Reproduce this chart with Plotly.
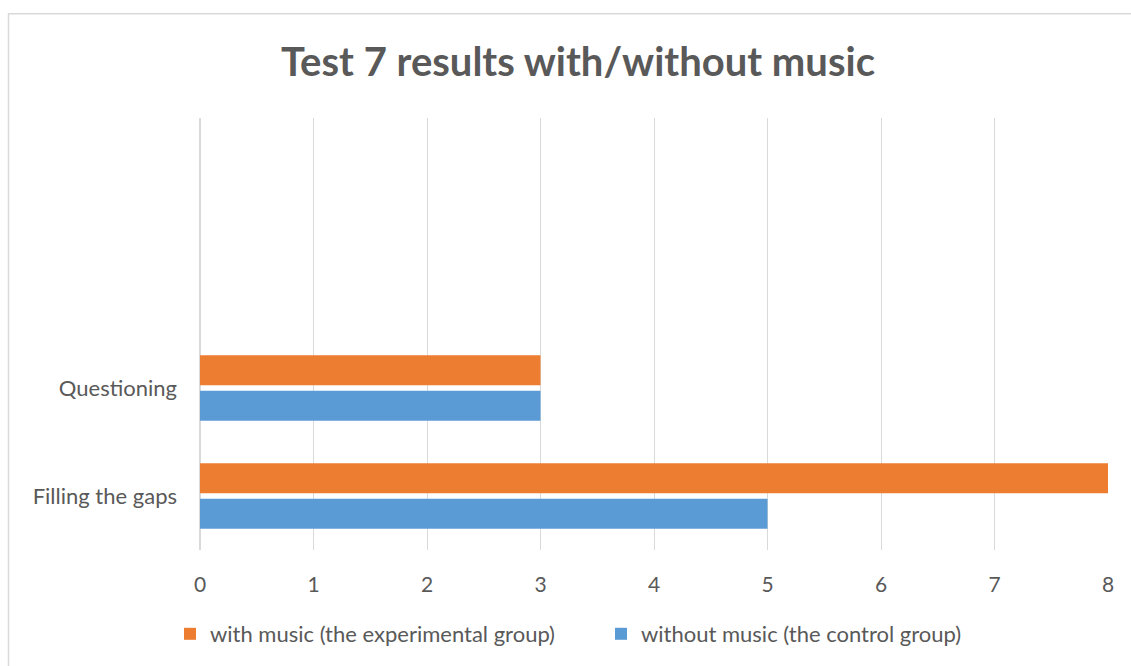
import plotly.graph_objects as go

categories = ["Filling the gaps", "Questioning"]
with_music = [8, 3]
without_music = [5, 3]
series_names = ["with music (the experimental group)", "without music (the control group)"]
x_ticks = [0, 1, 2, 3, 4, 5, 6, 7, 8]

ORANGE = "#ED7D31"
BLUE = "#5B9BD5"
TXT = "#595959"
FONT = "Lato, Open Sans, sans-serif"

fig = go.Figure()
fig.add_trace(go.Bar(y=categories, x=without_music, orientation="h", name=series_names[1],
                     marker=dict(color=BLUE, line=dict(width=0)), legendrank=2))
fig.add_trace(go.Bar(y=categories, x=with_music, orientation="h", name=series_names[0],
                     marker=dict(color=ORANGE, line=dict(width=0)), legendrank=1))

L, R, T, B = 200, 23, 118, 115
W, H = 1131, 666
pw, ph = W - L - R, H - T - B

fig.update_layout(
    width=W, height=H,
    margin=dict(l=L, r=R, t=T, b=B),
    paper_bgcolor="white", plot_bgcolor="white",
    barmode="group", bargap=0.34, bargroupgap=0.16,
    title=dict(text="<b>Test 7 results with/without music</b>", x=0.511, xanchor="center",
               y=1 - 62 / H, yanchor="middle",
               font=dict(family=FONT, size=40, color=TXT)),
    font=dict(family=FONT, size=22, color=TXT),
    showlegend=True,
    legend=dict(orientation="h", x=(212 - 42 - L) / pw, xanchor="left",
                y=-(634 - (T + ph)) / ph,
                yanchor="middle", font=dict(size=22, color=TXT), itemwidth=30,
                entrywidth=386, entrywidthmode="pixels",
                traceorder="normal"),
    xaxis=dict(range=[0, 8], tickvals=x_ticks, showgrid=True, gridcolor="#D9D9D9",
               gridwidth=1, zeroline=True, zerolinecolor="#D9D9D9", zerolinewidth=1.5,
               showline=False, ticks="",
               ticklabelstandoff=20, tickfont=dict(size=21, color=TXT)),
    yaxis=dict(type="category", categoryorder="array", categoryarray=categories,
               range=[-0.5, 3.5], showgrid=False, zeroline=False, showline=False,
               ticks="", ticklabelstandoff=22, tickfont=dict(size=22, color=TXT)),
    shapes=[dict(type="rect", xref="paper", yref="paper",
                 x0=(8.5 - L) / pw, x1=(W + 20 - L) / pw,
                 y0=-(H + 20 - T - ph) / ph, y1=(T + ph - 13.5) / ph,
                 line=dict(color="#D9D9D9", width=1.5), fillcolor="rgba(0,0,0,0)",
                 layer="below"),
            dict(type="line", xref="x", yref="paper", x0=0, x1=0, y0=0, y1=1,
                 line=dict(color="#D9D9D9", width=1.5), layer="below")],
)

fig.write_html("out.html")
